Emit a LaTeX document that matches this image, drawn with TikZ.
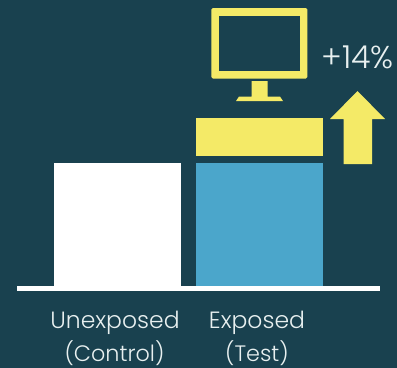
\documentclass[tikz,border=0pt]{standalone}
\usepackage{fontspec}
\setmainfont{Poppins}[UprightFont=* Light]
\definecolor{bgc}{HTML}{19414F}
\definecolor{yel}{HTML}{F4EA67}
\definecolor{blu}{HTML}{4BA6CB}
\definecolor{txt}{HTML}{E8F0F0}
\tikzset{
  bar/.style={draw=none,minimum width=127bp,inner sep=0pt,outer sep=0pt,anchor=north west},
  lab/.style={text=txt,font=\fontsize{23.5bp}{28bp}\selectfont,inner sep=0pt,anchor=base}
}
\begin{document}
\begin{tikzpicture}[x=1bp,y=-1bp]
\useasboundingbox (0,0) rectangle (397,368);
\fill[bgc] (0,0) rectangle (397,368);
\node[bar,fill=white,minimum height=123bp] (ctrl) at (54,163) {};
\node[bar,fill=blu,minimum height=123bp] (test) at (196,163) {};
\node[bar,fill=yel,minimum height=38bp] (lift) at (196,118) {};
\fill[white] (17,285.5) rectangle (380,291);
% monitor
\fill[yel,rounded corners=1.5bp] (211.3,8) rectangle (307.3,78.5);
\fill[bgc] (219,15.5) rectangle (300,70.5);
\fill[yel] (251.5,81) -- (267.5,81) -- (267.5,96.5) -- (280,96.5) -- (283,101) -- (236,101) -- (239,96.5) -- (251.5,96.5) -- cycle;
% arrow
\fill[yel] (357.5,91) -- (385,119) -- (372,119) -- (372,164) -- (343.5,164) -- (343.5,119) -- (330,119) -- cycle;
\node[lab,font=\fontsize{31bp}{36bp}\selectfont,scale=1.02] (pct) at (357.5,68) {+14\%};
\node[lab] (a1) at (115,328) {Unexposed};
\node[lab,scale=0.95] (a2) at (114.5,361.5) {(Control)};
\node[lab] (b1) at (257,328) {Exposed};
\node[lab,scale=0.95] (b2) at (257,361.5) {(Test)};
\end{tikzpicture}
\end{document}
